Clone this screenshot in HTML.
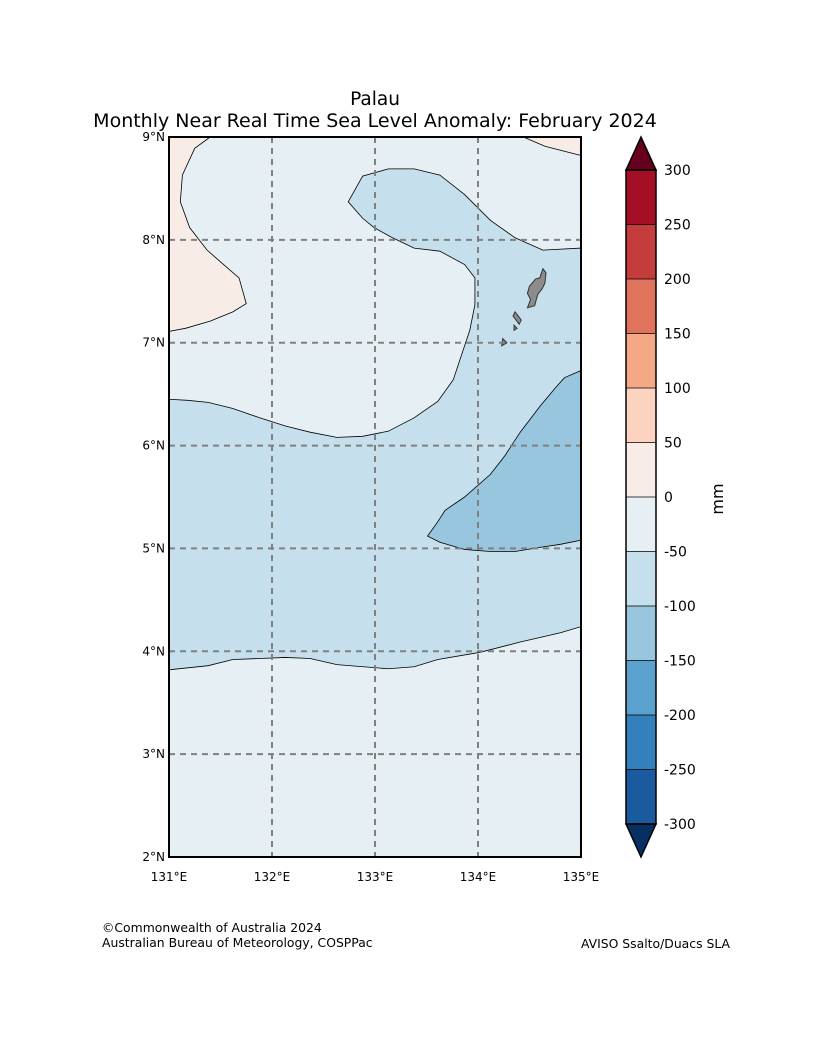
<!DOCTYPE html>
<html><head><meta charset="utf-8"><style>
body{margin:0;background:#fff;}
svg text{font-family:"DejaVu Sans","Liberation Sans",sans-serif;}
</style></head><body>
<svg width="832" height="1052" viewBox="0 0 832 1052">
<rect width="832" height="1052" fill="#fff"/>
<text x="375" y="105" font-size="18.5" text-anchor="middle">Palau</text>
<text x="375" y="127" font-size="19" text-anchor="middle">Monthly Near Real Time Sea Level Anomaly: February 2024</text>
<g id="map"></g>
<g id="cbar"></g>
<text x="102" y="932" font-size="12.4">©Commonwealth of Australia 2024</text>
<text x="102" y="947" font-size="12.4">Australian Bureau of Meteorology, COSPPac</text>
<text x="730" y="948" font-size="12.4" text-anchor="end">AVISO Ssalto/Duacs SLA</text>
</svg>
<script>
const lonTicks=[131,132,133,134,135];
const latTicks=[2,3,4,5,6,7,8,9];
const cbarLevels=[300,250,200,150,100,50,0,-50,-100,-150,-200,-250,-300];
const cbarColors=["#a50f26","#c43c3c","#e0735c","#f4a886","#fbd3c0","#f8ece6","#e6eff3","#c6dfec","#98c6de","#5aa1cd","#3480bd","#1a5a9e"];
const bgColor="#e6eff3";
const posNW=[[131,9],[131.40,9],[131.25,8.89],[131.13,8.63],[131.11,8.37],[131.20,8.12],[131.37,7.90],[131.53,7.76],[131.68,7.63],[131.75,7.38],[131.62,7.30],[131.40,7.21],[131.16,7.14],[131,7.11]];
const posNE=[[134.44,9],[134.65,8.91],[135,8.82],[135,9]];
const blue50=[[131,3.82],[131.38,3.86],[131.62,3.92],[131.88,3.93],[132.13,3.94],[132.37,3.93],[132.63,3.87],[133.13,3.83],[133.38,3.85],[133.61,3.92],[134.02,3.99],[134.41,4.09],[134.80,4.18],[135,4.24],[135,7.92],[134.63,7.90],[134.36,8.02],[134.12,8.19],[133.87,8.44],[133.63,8.63],[133.38,8.69],[133.13,8.69],[132.88,8.62],[132.74,8.37],[132.88,8.21],[132.99,8.12],[133.15,8.03],[133.38,7.92],[133.63,7.89],[133.87,7.76],[133.97,7.63],[133.97,7.37],[133.92,7.12],[133.84,6.88],[133.76,6.64],[133.61,6.43],[133.38,6.27],[133.13,6.14],[132.88,6.09],[132.63,6.08],[132.37,6.13],[132.13,6.19],[131.88,6.27],[131.62,6.36],[131.38,6.42],[131.18,6.44],[131,6.45]];
const blue100=[[135,6.73],[134.84,6.66],[134.75,6.56],[134.60,6.38],[134.41,6.13],[134.26,5.90],[134.12,5.72],[133.87,5.50],[133.68,5.37],[133.61,5.26],[133.51,5.12],[133.63,5.06],[133.87,4.99],[134.12,4.97],[134.36,4.97],[134.60,5.01],[134.80,5.04],[135,5.08]];
const island=[[134.63,7.72],[134.66,7.68],[134.65,7.58],[134.62,7.52],[134.58,7.47],[134.55,7.36],[134.48,7.34],[134.51,7.42],[134.48,7.48],[134.50,7.55],[134.56,7.62],[134.60,7.63]];
const isl2=[[134.36,7.30],[134.42,7.22],[134.40,7.18],[134.34,7.26]];
const isl3=[[134.35,7.17],[134.38,7.14],[134.35,7.12]];
const isl4=[[134.24,7.04],[134.28,7.00],[134.23,6.97]];
const X0=169,X1=581,Y0=137,Y1=857;
const sx=lon=>X0+(lon-131)/(135-131)*(X1-X0);
const sy=lat=>Y0+(9-lat)/(9-2)*(Y1-Y0);
const NS="http://www.w3.org/2000/svg";
function mk(p,tag,a){const e=document.createElementNS(NS,tag);for(const k in a)e.setAttribute(k,a[k]);p.appendChild(e);return e;}
const map=document.getElementById('map');
const bg=mk(map,'rect',{x:X0,y:Y0,width:X1-X0,height:Y1-Y0,fill:bgColor});


function poly(pts,fill,name,stroke,sw){const e=mk(map,'polygon',{points:pts.map(p=>sx(p[0])+','+sy(p[1])).join(' '),fill:fill,stroke:stroke||'#000','stroke-width':sw||0.8});

}
poly(blue50,cbarColors[7],'contour-minus-50-to-minus-100');
poly(blue100,cbarColors[8],'contour-minus-100-to-minus-150');
poly(posNW,cbarColors[5],'contour-positive-northwest');
poly(posNE,cbarColors[5],'contour-positive-northeast');
poly(island,'#8c8c8c','palau-island','#333',1);
poly(isl2,'#8c8c8c','island-small','#333',1);
poly(isl3,'#8c8c8c','island-small','#333',1);
poly(isl4,'#8c8c8c','island-small','#333',1);
lonTicks.forEach(l=>{
 if(l>131&&l<135){const g=mk(map,'line',{x1:sx(l),x2:sx(l),y1:Y0,y2:Y1,stroke:'#808080','stroke-width':2,'stroke-dasharray':'6,5'});
 
 }
 const t=mk(map,'text',{x:sx(l),y:Y1+24,'font-size':12,'text-anchor':'middle'});t.textContent=l+'°E';
 
 
});
latTicks.forEach(l=>{
 if(l>2&&l<9){const g=mk(map,'line',{x1:X0,x2:X1,y1:sy(l),y2:sy(l),stroke:'#808080','stroke-width':2,'stroke-dasharray':'6,5'});
 
 }
 const t=mk(map,'text',{x:X0-4,y:sy(l)+4,'font-size':12,'text-anchor':'end'});t.textContent=l+'°N';
 
 
});
const fr=mk(map,'rect',{x:X0,y:Y0,width:X1-X0,height:Y1-Y0,fill:'none',stroke:'#000','stroke-width':2});


const cb=document.getElementById('cbar');
const CX0=626,CX1=656,CT=170,CB=824,h=(CB-CT)/cbarColors.length;
cbarColors.forEach((c,i)=>{const r=mk(cb,'rect',{x:CX0,y:CT+i*h,width:CX1-CX0,height:h+0.5,fill:c});
 
 });
cbarLevels.forEach((v,i)=>{const y=CT+i*h;
 mk(cb,'line',{x1:CX0,x2:CX1,y1:y,y2:y,stroke:'#000','stroke-width':0.8});
 const t=mk(cb,'text',{x:664,y:y+5,'font-size':14});t.textContent=v;
 
 });
const tu=mk(cb,'polygon',{points:`${CX0},${CT} ${(CX0+CX1)/2},137 ${CX1},${CT}`,fill:'#67001f',stroke:'#000','stroke-width':1.5});


const td=mk(cb,'polygon',{points:`${CX0},${CB} ${(CX0+CX1)/2},857 ${CX1},${CB}`,fill:'#053061',stroke:'#000','stroke-width':1.5});


const co=mk(cb,'rect',{x:CX0,y:CT,width:CX1-CX0,height:CB-CT,fill:'none',stroke:'#000','stroke-width':1.5});


const ul=mk(cb,'text',{x:723,y:499,'font-size':16,'text-anchor':'middle',transform:'rotate(-90 723 499)'});ul.textContent='mm';


</script>
</body></html>
